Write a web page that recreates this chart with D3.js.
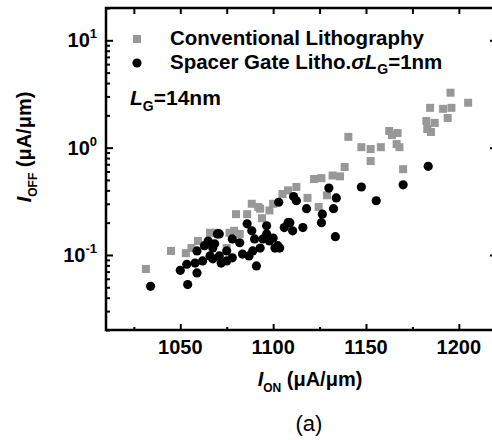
<!DOCTYPE html>
<html>
<head>
<meta charset="utf-8">
<script src="https://cdn.jsdelivr.net/npm/d3@7/dist/d3.min.js"></script>
<style>
  html, body { margin: 0; padding: 0; background: #fff; }
  svg { display: block; }
  text { font-family: "Liberation Sans", Arial, sans-serif; }
</style>
</head>
<body>
<svg id="chart" width="492" height="440"></svg>
<script>
// ---- data (I_ON in uA/um, I_OFF in uA/um) ----
const convIon = [1195.5,1205,1184.5,1191.5,1196,1194,1182.5,1187,1183,1185,
  1162.5,1167,1164,1166.5,1168,1140.5,1147.5,1152.5,1158,1152.5,
  1170,1138.5,1136,1132,1126,1122,1112.5,1108,1105,1118.5,
  1129,1124.5,1100,1098,1093,1088.5,1092,1086,1080,1094,
  1079,1076.5,1082,1069.5,1075,1059.5,1066,1056,1053,1045,1031.5];
const convIoff = [3.25,2.62,2.35,2.30,2.35,1.89,1.77,1.70,1.49,1.40,
  1.43,1.37,1.31,1.08,1.01,1.26,1.01,0.97,1.01,0.75,
  0.63,0.66,0.54,0.55,0.52,0.51,0.43,0.40,0.37,0.34,
  0.36,0.28,0.30,0.26,0.27,0.30,0.28,0.24,0.24,0.22,
  0.168,0.161,0.157,0.161,0.116,0.135,0.161,0.116,0.104,0.109,0.074];

const spacerIon = [1183.5,1170,1147.5,1155.5,1130,1134,1132.5,1126.5,1126,1118,
  1111,1112.5,1103,1133.5,1096.5,1108,1106,1116,1110.5,1094.5,
  1100,1102.5,1093,1086,1088.5,1090,1096.5,1098,1101,1089,
  1082,1078,1071,1065,1067.5,1075,1078,1071,1066,1083.5,
  1087,1091,1062,1034,1054,1050,1053.5,1058,1059,1059,
  1063,1070,1068.5,1067.5,1072,1075,1103.5,1109];
const spacerIoff = [0.67,0.45,0.43,0.32,0.42,0.34,0.27,0.24,0.20,0.27,
  0.35,0.32,0.31,0.148,0.187,0.20,0.18,0.18,0.168,0.141,
  0.144,0.122,0.116,0.195,0.168,0.141,0.157,0.135,0.116,0.109,
  0.130,0.141,0.157,0.135,0.116,0.109,0.094,0.098,0.098,0.102,
  0.098,0.079,0.088,0.051,0.053,0.072,0.082,0.084,0.068,0.109,
  0.122,0.157,0.127,0.092,0.084,0.088,0.116,0.20];

const xMajor = [1050,1100,1150,1200];
const xMinor = [1025,1075,1125,1175];
const yMajor = [0.1,1,10];
const yExp = ["-1","0","1"];
const legendLabels = ["Conventional Lithography","Spacer Gate Litho."];

// ---- layout ----
const svg = d3.select("#chart");
const L = 106, R = 496, T = 8, B = 330;
const x = d3.scaleLinear().domain([1010,1220]).range([L,R]);
const y = d3.scaleLog().domain([0.02,20]).range([B,T]);

const yMinor = y.ticks().filter(v => !yMajor.some(m => Math.abs(m - v) < 1e-9));

// ---- axes (ticks inward) ----
function drawAxis(axis, tr) {
  const g = svg.append("g").attr("transform", tr).call(axis);
  g.selectAll("path").remove();
  g.selectAll("line").attr("stroke","#000").attr("stroke-width",2);
  g.selectAll("text").remove();
  return g;
}
drawAxis(d3.axisBottom(x).tickValues(xMajor).tickSizeInner(-6).tickSizeOuter(0), `translate(0,${B})`);
drawAxis(d3.axisBottom(x).tickValues(xMinor).tickSizeInner(-3).tickSizeOuter(0), `translate(0,${B})`);
drawAxis(d3.axisTop(x).tickValues(xMajor).tickSizeInner(-6).tickSizeOuter(0), `translate(0,${T})`);
drawAxis(d3.axisTop(x).tickValues(xMinor).tickSizeInner(-6).tickSizeOuter(0), `translate(0,${T})`);
drawAxis(d3.axisLeft(y).tickValues(yMajor).tickSizeInner(-7).tickSizeOuter(0), `translate(${L},0)`);
drawAxis(d3.axisLeft(y).tickValues(yMinor).tickSizeInner(-4).tickSizeOuter(0), `translate(${L},0)`);
drawAxis(d3.axisRight(y).tickValues(yMajor).tickSizeInner(-6).tickSizeOuter(0), `translate(${R},0)`);

// frame
svg.append("path")
  .attr("d", `M${L},${T}H${R}V${B}H${L}Z`)
  .attr("fill","none").attr("stroke","#000").attr("stroke-width",2.5);

// x tick labels
svg.append("g").selectAll("text").data(xMajor).join("text")
  .attr("x", d => x(d)).attr("y", B + 24)
  .attr("text-anchor","middle").attr("font-size",20).attr("font-weight","bold")
  .text(d => d);

// y tick labels with superscripts
const yl = svg.append("g").selectAll("text").data(yMajor).join("text")
  .attr("x", 97).attr("y", d => y(d) + 7)
  .attr("text-anchor","end").attr("font-size",20).attr("font-weight","bold");
yl.append("tspan").text("10");
yl.append("tspan").attr("font-size",13).attr("dy",-9).text((d,i) => yExp[i]);

// ---- data marks ----
const conv = convIon.map((v,i) => ({x:v, y:convIoff[i]}));
const spacer = spacerIon.map((v,i) => ({x:v, y:spacerIoff[i]}));
const sq = 8;
svg.append("g").selectAll("rect").data(conv).join("rect")
  .attr("x", d => x(d.x) - sq/2).attr("y", d => y(d.y) - sq/2)
  .attr("width", sq).attr("height", sq).attr("fill","#989898");
svg.append("g").selectAll("circle").data(spacer).join("circle")
  .attr("cx", d => x(d.x)).attr("cy", d => y(d.y)).attr("r",4.6).attr("fill","#000");

// ---- legend ----
svg.append("rect").attr("x",133).attr("y",35).attr("width",8).attr("height",8).attr("fill","#989898");
svg.append("circle").attr("cx",137).attr("cy",63).attr("r",4.6).attr("fill","#000");
svg.append("text").attr("x",170).attr("y",45).attr("font-size",20.5).attr("font-weight","bold")
  .text(legendLabels[0]);
const l2 = svg.append("text").attr("x",170).attr("y",69).attr("font-size",20.5).attr("font-weight","bold");
l2.append("tspan").text(legendLabels[1]);
l2.append("tspan").attr("font-style","italic").text("σL");
l2.append("tspan").attr("font-size",14).attr("dy",5).text("G");
l2.append("tspan").attr("dy",-5).text("=1nm");

const lg = svg.append("text").attr("x",130).attr("y",105).attr("font-size",21).attr("font-weight","bold");
lg.append("tspan").attr("font-style","italic").text("L");
lg.append("tspan").attr("font-size",14).attr("dy",6).text("G");
lg.append("tspan").attr("dy",-6).text("=14nm");

// ---- axis titles ----
const xt = svg.append("text").attr("x",310).attr("y",386).attr("text-anchor","middle")
  .attr("font-size",20).attr("font-weight","bold");
xt.append("tspan").attr("font-style","italic").text("I");
xt.append("tspan").attr("font-size",12).attr("dy",6).text("ON");
xt.append("tspan").attr("dy",-6).text(" (μA/μm)");

const ytt = svg.append("text").attr("transform","translate(31,147) rotate(-90)")
  .attr("text-anchor","middle").attr("font-size",20).attr("font-weight","bold");
ytt.append("tspan").attr("font-style","italic").text("I");
ytt.append("tspan").attr("font-size",12).attr("dy",6).text("OFF");
ytt.append("tspan").attr("dy",-6).text(" (μA/μm)");

svg.append("text").attr("x",309).attr("y",431).attr("text-anchor","middle")
  .attr("font-family","'Liberation Serif','Times New Roman',serif").attr("font-size",22)
  .text("(a)");
</script>
</body>
</html>
